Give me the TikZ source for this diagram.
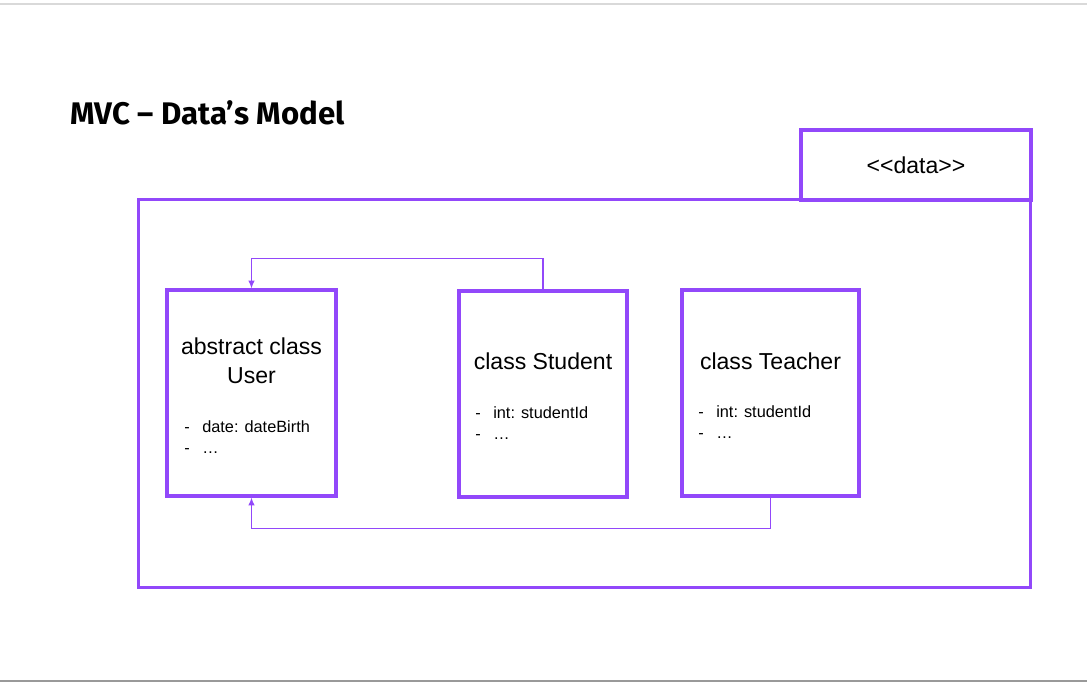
\documentclass[tikz,border=0pt]{standalone}
\usepackage{fontspec}
\setmainfont{Liberation Sans}
\newfontfamily\headfont{Fira Sans}
\usetikzlibrary{arrows.meta}
\definecolor{mvcpurple}{RGB}{146,72,250}
\newcommand{\attr}[1]{\makebox[0.45cm][l]{-}#1}
\newcommand{\bigtxt}{\fontsize{16.4}{20.6}\selectfont}
\newcommand{\smalltxt}{\fontsize{11.6}{15.3}\selectfont}

\begin{document}
\begin{tikzpicture}[x=0.025cm, y=-0.025cm, >={Latex[length=5.5pt,width=4.5pt]},
  frame/.style={draw=mvcpurple, line width=2.2pt, inner sep=0pt},
  classbox/.style={frame, minimum height=5.15cm},
  conn/.style={draw=mvcpurple, line width=0.8pt, ->},
  attrs/.style={anchor=north west, align=left, inner sep=0pt, font=\smalltxt}]
  \useasboundingbox (0,0) rectangle (1087,682);
  \draw[black!15, line width=1.5pt] (0,4) -- (1087,4);
  \draw[black!40, line width=1.5pt] (0,681) -- (1087,681);

  % title
  \node[anchor=base west, inner sep=0pt] (title) at (70,125)
    {\headfont\bfseries\fontsize{22.2}{26}\selectfont MVC – Data’s Model};

  % package frame and its tag
  \node[frame, minimum width=22.275cm, minimum height=9.675cm] (pkg) at (584.5,393.5) {};
  \node[frame, minimum width=5.75cm, minimum height=1.75cm, font=\bigtxt] (tag) at (916,165) {<\kern0pt<data>\kern0pt>};

  % classes
  \node[classbox, minimum width=4.225cm] (usr) at (251.5,393) {};
  \node[classbox, minimum width=4.2cm] (stu) at (543,394) {};
  \node[classbox, minimum width=4.425cm] (tch) at (770.5,393) {};

  \node[align=center, font=\bigtxt] (usrname) at (251.5,361) {abstract class\\User};
  \node[font=\bigtxt] (stuname) at (543,361) {class Student};
  \node[font=\bigtxt] (tchname) at (770.5,361) {class Teacher};

  \node[attrs] (usrattr) at (184,420) {\attr{date: dateBirth}\\\attr{…}};
  \node[attrs] (stuattr) at (475,406) {\attr{int: studentId}\\\attr{…}};
  \node[attrs] (tchattr) at (698,405) {\attr{int: studentId}\\\attr{…}};

  % inheritance links
  \draw[conn] (stu.north) -- ++(0,-31) -| (usr.north);
  \draw[conn] (tch.south) -- ++(0,31) -| (usr.south);
\end{tikzpicture}
\end{document}
